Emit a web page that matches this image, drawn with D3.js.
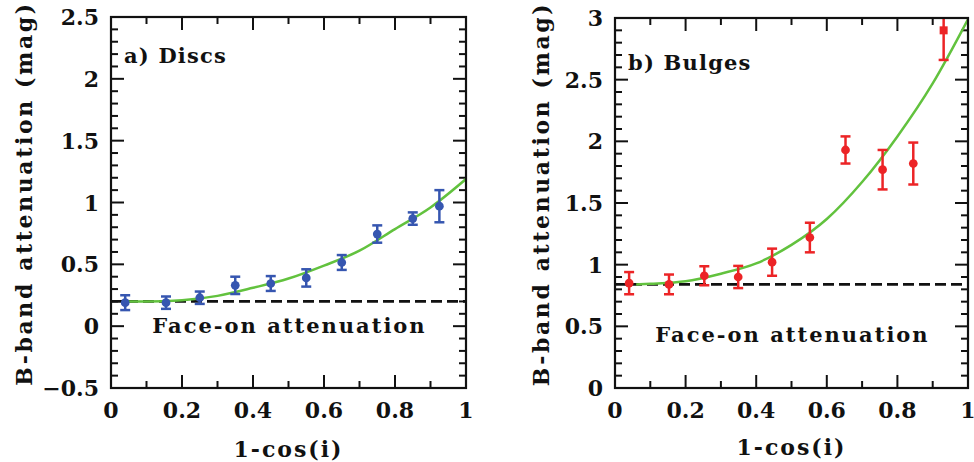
<!DOCTYPE html>
<html>
<head>
<meta charset="utf-8">
<script src="https://cdn.jsdelivr.net/npm/d3@7"></script>
<style>
  body { margin: 0; background: #fff; }
  svg text { font-family: "DejaVu Serif", serif; font-weight: bold; fill: #111; }
</style>
</head>
<body>
<div id="main"></div>
<script>
// ---- data ----
const discX = [0.04, 0.155, 0.25, 0.35, 0.45, 0.55, 0.65, 0.75, 0.85, 0.925];
const discY = [0.19, 0.19, 0.23, 0.33, 0.345, 0.39, 0.515, 0.745, 0.87, 0.97];
const discErr = [0.06, 0.05, 0.05, 0.07, 0.06, 0.07, 0.06, 0.07, 0.05, 0.13];
const discFitX = [0.04, 0.1, 0.2, 0.3, 0.4, 0.5, 0.6, 0.7, 0.8, 0.9, 1.0];
const discFitY = [0.2, 0.2, 0.21, 0.245, 0.31, 0.385, 0.49, 0.61, 0.785, 0.96, 1.19];
const discFaceOn = 0.2;

const bulgeX = [0.04, 0.153, 0.253, 0.349, 0.445, 0.552, 0.653, 0.758, 0.845, 0.931];
const bulgeY = [0.85, 0.84, 0.91, 0.90, 1.02, 1.22, 1.93, 1.77, 1.82, 2.90];
const bulgeErr = [0.09, 0.08, 0.077, 0.09, 0.11, 0.12, 0.11, 0.16, 0.17, 0.24];
const bulgeFitX = [0.06, 0.1, 0.2, 0.3, 0.4, 0.5, 0.6, 0.7, 0.8, 0.9, 1.0];
const bulgeFitY = [0.84, 0.845, 0.865, 0.927, 1.01, 1.16, 1.37, 1.67, 2.04, 2.47, 2.99];
const bulgeFaceOn = 0.84;

const xTicks = [0, 0.2, 0.4, 0.6, 0.8, 1];
const discYTicks = [-0.5, 0, 0.5, 1, 1.5, 2, 2.5];
const bulgeYTicks = [0, 0.5, 1, 1.5, 2, 2.5, 3];

const width = 974;
const height = 462;

const svg = d3.select("#main")
    .append("svg")
    .attr("width", width)
    .attr("height", height);

function panel(opts) {
    const x = d3.scaleLinear().domain([0, 1]).range([opts.left, opts.right]);
    const y = d3.scaleLinear().domain(opts.yDomain).range([opts.bottom, opts.top]);
    const g = svg.append("g");

    const clipId = "clip" + opts.id;
    g.append("clipPath").attr("id", clipId)
        .append("rect")
        .attr("x", opts.left).attr("y", opts.top)
        .attr("width", opts.right - opts.left).attr("height", opts.bottom - opts.top);

    // inward ticks on all four sides
    const xMinor = d3.range(0, 1.0001, 0.1);
    const yMinor = d3.range(opts.yDomain[0], opts.yDomain[1] + 0.0001, 0.1);
    const isMajor = (v, step) => Math.abs(v / step - Math.round(v / step)) < 1e-6;
    const tk = g.append("g").attr("stroke", "#111").attr("stroke-width", 2);
    xMinor.forEach(v => {
        const len = isMajor(v, 0.2) ? 13 : 7;
        tk.append("line").attr("x1", x(v)).attr("x2", x(v)).attr("y1", opts.bottom).attr("y2", opts.bottom - len);
        tk.append("line").attr("x1", x(v)).attr("x2", x(v)).attr("y1", opts.top).attr("y2", opts.top + len);
    });
    yMinor.forEach(v => {
        const len = isMajor(v, 0.5) ? 13 : 7;
        tk.append("line").attr("y1", y(v)).attr("y2", y(v)).attr("x1", opts.left).attr("x2", opts.left + len);
        tk.append("line").attr("y1", y(v)).attr("y2", y(v)).attr("x1", opts.right).attr("x2", opts.right - len);
    });

    // tick labels
    g.selectAll(".xl").data(xTicks).join("text")
        .attr("x", d => x(d)).attr("y", opts.bottom + 30)
        .attr("text-anchor", "middle").attr("font-size", 22)
        .text(d => d3.format("")(d));
    g.selectAll(".yl").data(opts.yTicks).join("text")
        .attr("x", opts.left - 12).attr("y", d => y(d) + 8)
        .attr("text-anchor", "end").attr("font-size", 22)
        .text(d => d3.format("")(d));

    // axis titles
    g.append("text")
        .attr("x", (opts.left + opts.right) / 2).attr("y", opts.bottom + opts.xtitleOff)
        .attr("text-anchor", "middle").attr("font-size", 22)
        .attr("letter-spacing", 2)
        .text("1-cos(i)");
    g.append("text")
        .attr("transform", `translate(${opts.left - opts.ytitleOff},${(opts.top + opts.bottom) / 2 - 9}) rotate(-90)`)
        .attr("text-anchor", "middle").attr("font-size", 22)
        .attr("letter-spacing", 2.6)
        .text("B-band attenuation (mag)");

    const plot = g.append("g").attr("clip-path", `url(#${clipId})`);

    // face-on dashed line
    plot.append("line")
        .attr("x1", x(0)).attr("x2", x(1))
        .attr("y1", y(opts.faceOn)).attr("y2", y(opts.faceOn))
        .attr("stroke", "#111").attr("stroke-width", 2.8)
        .attr("stroke-dasharray", "11,5");

    // fitted curve
    const line = d3.line().x(d => x(d[0])).y(d => y(d[1])).curve(d3.curveMonotoneX);
    plot.append("path")
        .datum(d3.zip(opts.fitX, opts.fitY))
        .attr("d", line)
        .attr("fill", "none")
        .attr("stroke", "#62c23e")
        .attr("stroke-width", 2.5);

    // error bars + points
    const pts = opts.px.map((v, i) => ({ x: v, y: opts.py[i], e: opts.pe[i], i }));
    const eb = plot.append("g").attr("stroke", opts.color).attr("stroke-width", 2.5);
    pts.forEach(p => {
        eb.append("line").attr("x1", x(p.x)).attr("x2", x(p.x)).attr("y1", y(p.y - p.e)).attr("y2", y(p.y + p.e));
        [p.y - p.e, p.y + p.e].forEach(v => {
            eb.append("line").attr("x1", x(p.x) - 5).attr("x2", x(p.x) + 5).attr("y1", y(v)).attr("y2", y(v));
        });
    });
    const last = pts.length - 1;
    plot.selectAll(".pt").data(pts).join("path")
        .attr("transform", d => `translate(${x(d.x)},${y(d.y)})`)
        .attr("d", d => (opts.squareLast && d.i === last)
            ? d3.symbol().type(d3.symbolSquare).size(64)()
            : d3.symbol().type(d3.symbolCircle).size(60)())
        .attr("fill", opts.color);

    // frame
    g.append("rect")
        .attr("x", opts.left).attr("y", opts.top)
        .attr("width", opts.right - opts.left).attr("height", opts.bottom - opts.top)
        .attr("fill", "none").attr("stroke", "#111").attr("stroke-width", 2.2);

    // labels
    g.append("text").attr("x", opts.left + 13).attr("y", opts.labelY)
        .attr("font-size", 21).attr("letter-spacing", 1.2).text(opts.label);
    g.append("text").attr("x", (opts.left + opts.right) / 2 + 1).attr("y", opts.faceOnTextY)
        .attr("text-anchor", "middle").attr("font-size", 21)
        .attr("letter-spacing", 2)
        .text("Face-on attenuation");
}

panel({
    id: "a", left: 111, right: 466, top: 17, bottom: 388,
    yDomain: [-0.5, 2.5], yTicks: discYTicks,
    px: discX, py: discY, pe: discErr, fitX: discFitX, fitY: discFitY,
    faceOn: discFaceOn, color: "#3656b0", label: "a) Discs", labelY: 63,
    faceOnTextY: 333, ytitleOff: 79, xtitleOff: 69, squareLast: false
});

panel({
    id: "b", left: 615, right: 968, top: 18, bottom: 388,
    yDomain: [0, 3], yTicks: bulgeYTicks,
    px: bulgeX, py: bulgeY, pe: bulgeErr, fitX: bulgeFitX, fitY: bulgeFitY,
    faceOn: bulgeFaceOn, color: "#ec2426", label: "b) Bulges", labelY: 70,
    faceOnTextY: 342, ytitleOff: 66, xtitleOff: 67, squareLast: true
});
</script>
</body>
</html>
